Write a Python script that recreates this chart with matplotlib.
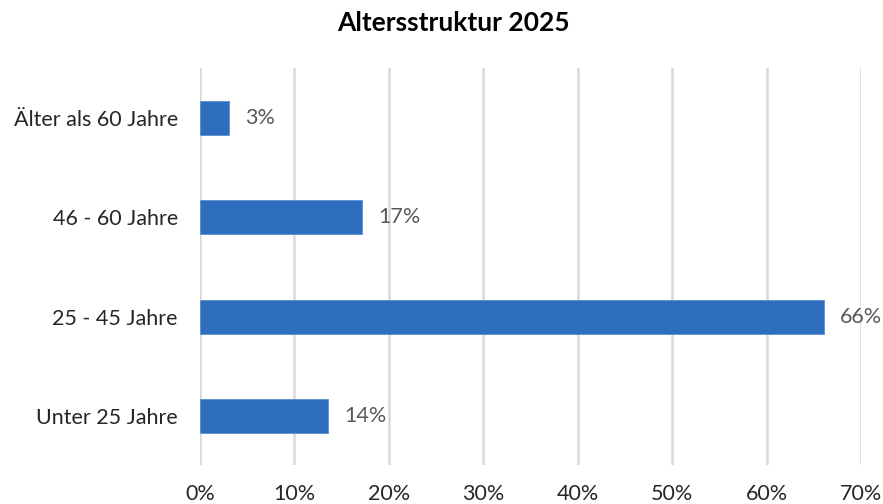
import matplotlib.pyplot as plt
from matplotlib.ticker import FuncFormatter

plt.rcParams['font.family'] = ['Lato', 'DejaVu Sans']

# data (bottom to top)
categories = ['Unter 25 Jahre', '25 - 45 Jahre', '46 - 60 Jahre', 'Älter als 60 Jahre']
shares = [13.6, 66.1, 17.2, 3.1]
labels = ['14%', '66%', '17%', '3%']
x_ticks = [0, 10, 20, 30, 40, 50, 60, 70]

fig = plt.figure(figsize=(8.83, 5.04), dpi=100)
ax = fig.add_axes([0.2265, 0.0774, 0.7485, 0.7877])

ypos = range(len(categories))
ax.barh(ypos, shares, height=0.34, color='#2E6EBE', edgecolor='#5A8FD0', linewidth=0.6, zorder=3)

for y, v, lab in zip(ypos, shares, labels):
    ax.annotate(lab, (v, y), xytext=(16, 0), textcoords='offset pixels',
                ha='left', va='center', fontsize=15.5, color='#595959')

ax.set_xlim(0, 70)
ax.set_ylim(-0.49, 3.5)
ax.set_xticks(x_ticks)
ax.xaxis.set_major_formatter(FuncFormatter(lambda v, p: f'{v:.0f}%'))
ax.set_yticks(list(ypos))
ax.set_yticklabels(categories)
ax.tick_params(axis='both', length=0, labelsize=15.5, colors='#262626')
ax.tick_params(axis='x', pad=14)
ax.tick_params(axis='y', pad=16)
ax.grid(axis='x', color='#D9D9D9', linewidth=1.8, zorder=0)
for s in ax.spines.values():
    s.set_visible(False)

fig.text(0.514, 0.955, 'Altersstruktur 2025', ha='center', va='center',
         fontsize=19, fontweight='bold', color='#000000')

fig.savefig('out.png', dpi=100)
